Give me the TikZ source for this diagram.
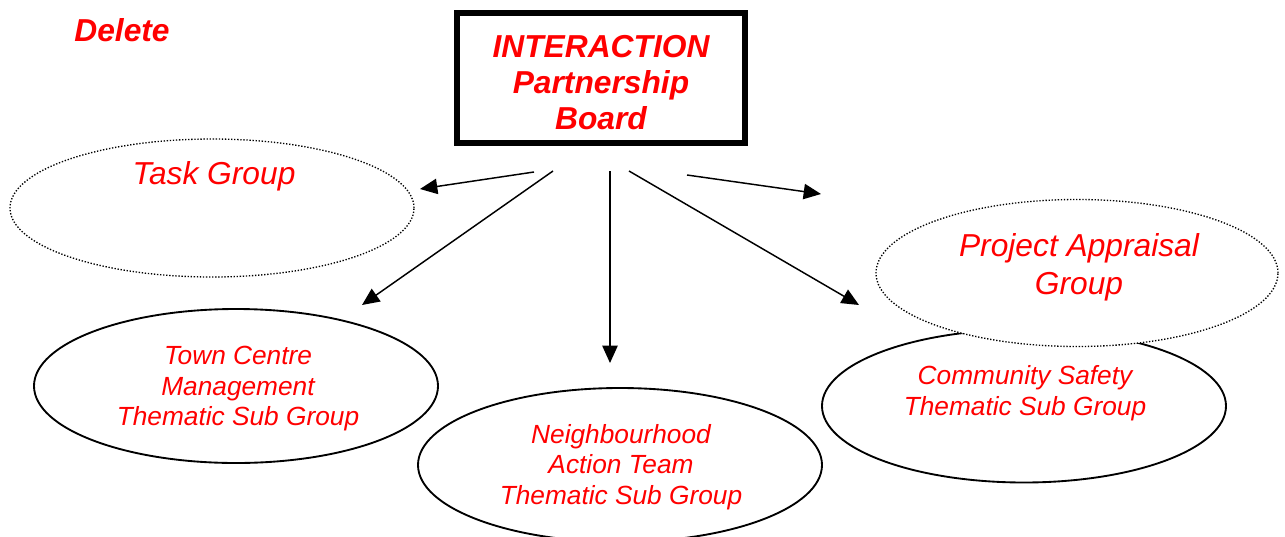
\documentclass[tikz,border=0pt]{standalone}
\usepackage{fontspec}
\setmainfont{Liberation Sans}
\usepackage{tikz}
\usetikzlibrary{arrows.meta,shapes.geometric,positioning}
\definecolor{orgred}{HTML}{FF0000}

\begin{document}
\begin{tikzpicture}[x=0.75pt,y=-0.75pt,>={Triangle[length=13pt,width=11.5pt]},line width=1.1pt]
    \tikzstyle{board_box}=[rectangle,draw=black,line width=4.5pt,inner sep=0pt,minimum width=216pt,minimum height=97.5pt,align=center,text=orgred,font=\fontsize{23.8}{27}\selectfont\bfseries\itshape]
    \tikzstyle{group_oval}=[ellipse,draw=black,line width=1.4pt,inner sep=0pt,minimum width=303pt]
    \tikzstyle{task_oval}=[group_oval,line width=1pt,dash pattern=on 1pt off 1.3pt,fill=white]
    \tikzstyle{big_label}=[align=center,text=orgred,inner sep=0pt,font=\fontsize{23.8}{28.5}\selectfont\itshape]
    \tikzstyle{sub_label}=[align=center,text=orgred,inner sep=0pt,font=\fontsize{19.7}{22.9}\selectfont\itshape]
    \useasboundingbox (0,0) rectangle (1285,536);

    \node[big_label,font=\fontsize{23.8}{28.5}\selectfont\bfseries\itshape]  (delete)  at (122,30)  {Delete};
    \node[board_box]  (board)  at (601,78)  {\rule{0pt}{23pt}INTERACTION\\Partnership\\Board};

    % groups
    \node[task_oval]  (tg)  at (212,208)  [minimum height=103.5pt]  {};
    \node[group_oval]  (tc)  at (236,386)  [minimum height=115.5pt]  {};
    \node[group_oval]  (nat)  at (620,465)  [minimum height=115.5pt]  {};
    \node[group_oval]  (cs)  at (1024,406)  [minimum height=114.75pt]  {};
    \node[task_oval]  (pa)  at (1077,273)  [minimum width=301.5pt,minimum height=110.25pt]  {};

    \node[big_label]  (tg_text)  at (214,176)  {Task Group};
    \node[big_label]  (pa_text)  at (1079,267)  {Project Appraisal\\Group};
    \node[sub_label]  (tc_text)  at (238,389)  {Town Centre\\Management\\Thematic Sub Group};
    \node[sub_label]  (nat_text)  at (621,467)  {Neighbourhood\\Action Team\\Thematic Sub Group};
    \node[sub_label]  (cs_text)  at (1025,393)  {Community Safety\\Thematic Sub Group};

    % arrow ends
    \coordinate (b1) at (534,172);
    \coordinate (b2) at (553,171);
    \coordinate (b3) at (610,171);
    \coordinate (b4) at (629,171);
    \coordinate (b5) at (687,175);
    \coordinate (t1) at (420,189);
    \coordinate (t2) at (362,305);
    \coordinate (t3) at (610,363);
    \coordinate (t4) at (859,305);
    \coordinate (t5) at (821,194);

\path[->]
(b1) edge  (t1)
(b2) edge  (t2)
(b3) edge  (t3)
(b4) edge  (t4)
(b5) edge  (t5);

\end{tikzpicture}
\end{document}
